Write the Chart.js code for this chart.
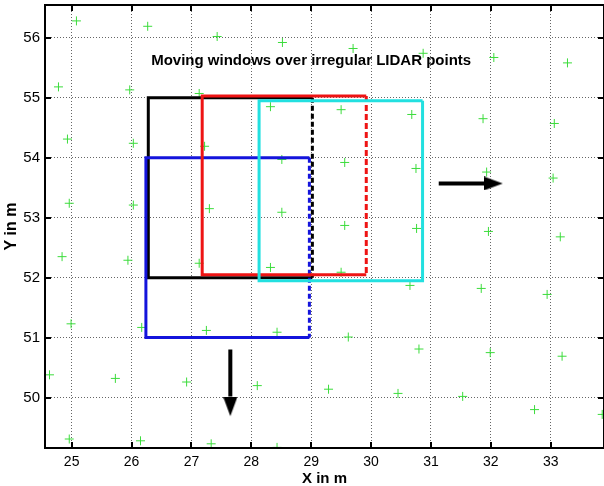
<!DOCTYPE html>
<html>
<head>
<meta charset="utf-8">
<script src="https://cdn.jsdelivr.net/npm/chart.js@4.4.0/dist/chart.umd.min.js"></script>
<style>
  html, body { margin: 0; padding: 0; background: #fff; }
</style>
</head>
<body>
<canvas id="myChart" width="604" height="486"></canvas>
<script>
// LIDAR points
const lidarX = [25.08, 26.27, 27.43, 28.52, 24.78, 25.97, 27.13, 28.32, 24.93, 26.03, 27.22, 28.51,
  24.96, 26.03, 27.30, 28.51, 29.70, 30.87, 32.05, 33.28, 29.50, 30.68, 31.87, 33.06,
  29.56, 30.75, 31.93, 33.04, 29.56, 30.76, 31.96, 33.16, 24.84, 25.94, 27.13, 28.32,
  24.99, 26.17, 27.25, 28.43, 24.63, 25.73, 26.92, 28.10, 24.96, 26.15, 27.33, 28.43,
  29.50, 30.65, 31.84, 32.94, 29.62, 30.80, 31.99, 33.19, 29.29, 30.45, 31.53, 32.73, 33.86];
const lidarY = [56.28, 56.19, 56.02, 55.92, 55.18, 55.13, 55.07, 54.85, 54.31, 54.24, 54.19, 53.97,
  53.24, 53.21, 53.15, 53.09, 55.82, 55.74, 55.67, 55.58, 54.80, 54.72, 54.65, 54.57,
  53.92, 53.82, 53.76, 53.66, 52.87, 52.82, 52.77, 52.68, 52.35, 52.29, 52.24, 52.17,
  51.23, 51.17, 51.12, 51.09, 50.38, 50.32, 50.26, 50.20, 49.31, 49.28, 49.23, 49.17,
  52.09, 51.87, 51.82, 51.72, 51.01, 50.81, 50.75, 50.69, 50.14, 50.07, 50.02, 49.80, 49.72];

// windows: [xmin, xmax, ymin, ymax]
const blackWin = [26.28, 29.02, 52.00, 55.00];
const redWin = [27.18, 29.92, 52.05, 55.03];
const cyanWin = [28.13, 30.86, 51.95, 54.95];
const blueWin = [26.24, 28.97, 51.00, 54.00];

// arrows: tail, end of shaft, tip
const arrowRight = [[31.13, 53.57], [31.90, 53.57], [32.20, 53.57]];
const arrowDown = [[27.65, 50.80], [27.65, 50.02], [27.65, 49.69]];

const xTicks = [25, 26, 27, 28, 29, 30, 31, 32, 33];
const yTicks = [50, 51, 52, 53, 54, 55, 56];
const xRange = [24.555, 33.89];
const yRange = [49.16, 56.545];

const chartTitle = "Moving windows over irregular LIDAR points";
const titleAt = [29.0, 55.61];

const FONT = "'Liberation Sans', Arial, sans-serif";

// arrow head picture, tip in the middle so it sits on the point
const head = document.createElement("canvas");
head.width = 38;
head.height = 14;
const hctx = head.getContext("2d");
hctx.fillStyle = "#000";
hctx.beginPath();
hctx.moveTo(0, 0);
hctx.lineTo(19, 7);
hctx.lineTo(0, 14);
hctx.closePath();
hctx.fill();

const pt = (a) => ({ x: a[0], y: a[1] });

const openSide = (w) => [
  { x: w[1], y: w[3] },
  { x: w[0], y: w[3] },
  { x: w[0], y: w[2] },
  { x: w[1], y: w[2] },
];
const rightSide = (w) => [
  { x: w[1], y: w[3] },
  { x: w[1], y: w[2] },
];
const closed = (w) => [...openSide(w), { x: w[1], y: w[3] }];

const lineSet = (data, color, order, dash) => ({
  data: data,
  showLine: true,
  borderColor: color,
  borderWidth: 3,
  borderDash: dash || [],
  pointRadius: 0,
  fill: false,
  order: order,
});

const frame = {
  id: "frame",
  beforeDatasetsDraw(chart) {
    const { ctx, scales: { x, y } } = chart;
    ctx.save();
    ctx.fillStyle = "#000";
    ctx.font = "bold 15px " + FONT;
    ctx.textAlign = "center";
    ctx.textBaseline = "middle";
    ctx.fillText(chartTitle, x.getPixelForValue(titleAt[0]), y.getPixelForValue(titleAt[1]));
    ctx.restore();
  },
  afterDatasetsDraw(chart) {
    const { ctx, chartArea: a, scales: { x, y } } = chart;
    ctx.save();
    ctx.strokeStyle = "#000";
    ctx.lineWidth = 2;
    ctx.strokeRect(a.left, a.top, a.right - a.left, a.bottom - a.top);
    ctx.beginPath();
    x.ticks.forEach((t) => {
      const px = Math.round(x.getPixelForValue(t.value));
      ctx.moveTo(px, a.bottom);
      ctx.lineTo(px, a.bottom - 6);
      ctx.moveTo(px, a.top);
      ctx.lineTo(px, a.top + 6);
    });
    y.ticks.forEach((t) => {
      const py = Math.round(y.getPixelForValue(t.value));
      ctx.moveTo(a.left, py);
      ctx.lineTo(a.left + 6, py);
      ctx.moveTo(a.right, py);
      ctx.lineTo(a.right - 6, py);
    });
    ctx.stroke();
    ctx.restore();
  },
};

new Chart(document.getElementById("myChart"), {
  type: "scatter",
  data: {
    datasets: [
      {
        data: lidarX.map((v, i) => ({ x: v, y: lidarY[i] })),
        pointStyle: "cross",
        pointRadius: 4.5,
        pointBorderWidth: 1,
        borderColor: "#3cdc3c",
        backgroundColor: "#3cdc3c",
        order: 9,
      },
      lineSet(openSide(blackWin), "#000000", 8),
      lineSet(rightSide(blackWin), "#000000", 8, [5, 3]),
      lineSet(openSide(blueWin), "#1414dc", 7),
      lineSet(rightSide(blueWin), "#1414dc", 7, [5, 3]),
      lineSet(openSide(redWin), "#ee1414", 6),
      lineSet(rightSide(redWin), "#ee1414", 6, [6, 3]),
      lineSet(closed(cyanWin), "#22e0e0", 5),
      {
        data: arrowRight.slice(0, 2).map(pt),
        showLine: true,
        borderColor: "#000",
        borderWidth: 4,
        pointRadius: 0,
        order: 1,
      },
      {
        data: [pt(arrowRight[2])],
        pointStyle: head,
        pointRadius: 10,
        rotation: 0,
        order: 1,
      },
      {
        data: arrowDown.slice(0, 2).map(pt),
        showLine: true,
        borderColor: "#000",
        borderWidth: 4,
        pointRadius: 0,
        order: 1,
      },
      {
        data: [pt(arrowDown[2])],
        pointStyle: head,
        pointRadius: 10,
        rotation: 90,
        order: 1,
      },
    ],
  },
  options: {
    responsive: false,
    animation: false,
    layout: { autoPadding: false, padding: { top: 5, right: 0, left: 0, bottom: 0 } },
    plugins: {
      legend: { display: false },
      tooltip: { enabled: false },
    },
    scales: {
      x: {
        type: "linear",
        min: xRange[0],
        max: xRange[1],
        afterBuildTicks: (s) => {
          s.ticks = xTicks.map((v) => ({ value: v }));
        },
        afterFit: (s) => {
          s.height = 38;
          s.paddingLeft = 0;
          s.paddingRight = 0;
        },
        grid: { color: "#666", lineWidth: 1, drawTicks: false },
        border: { display: false, dash: [1, 2] },
        ticks: {
          color: "#000",
          padding: 6,
          font: { family: FONT, size: 14 },
        },
        title: {
          display: true,
          text: "X in m",
          color: "#000",
          padding: { top: 0, bottom: -2 },
          font: { family: FONT, size: 15, weight: "bold" },
        },
      },
      y: {
        type: "linear",
        min: yRange[0],
        max: yRange[1],
        afterBuildTicks: (s) => {
          s.ticks = yTicks.map((v) => ({ value: v }));
        },
        afterFit: (s) => {
          s.width = 45;
          s.paddingTop = 0;
          s.paddingBottom = 0;
        },
        grid: { color: "#666", lineWidth: 1, drawTicks: false },
        border: { display: false, dash: [1, 2] },
        ticks: {
          color: "#000",
          padding: 5,
          font: { family: FONT, size: 15 },
        },
        title: {
          display: true,
          text: "Y in m",
          color: "#000",
          padding: { top: 2, bottom: 0 },
          font: { family: FONT, size: 16, weight: "bold" },
        },
      },
    },
  },
  plugins: [frame],
});
</script>
</body>
</html>
